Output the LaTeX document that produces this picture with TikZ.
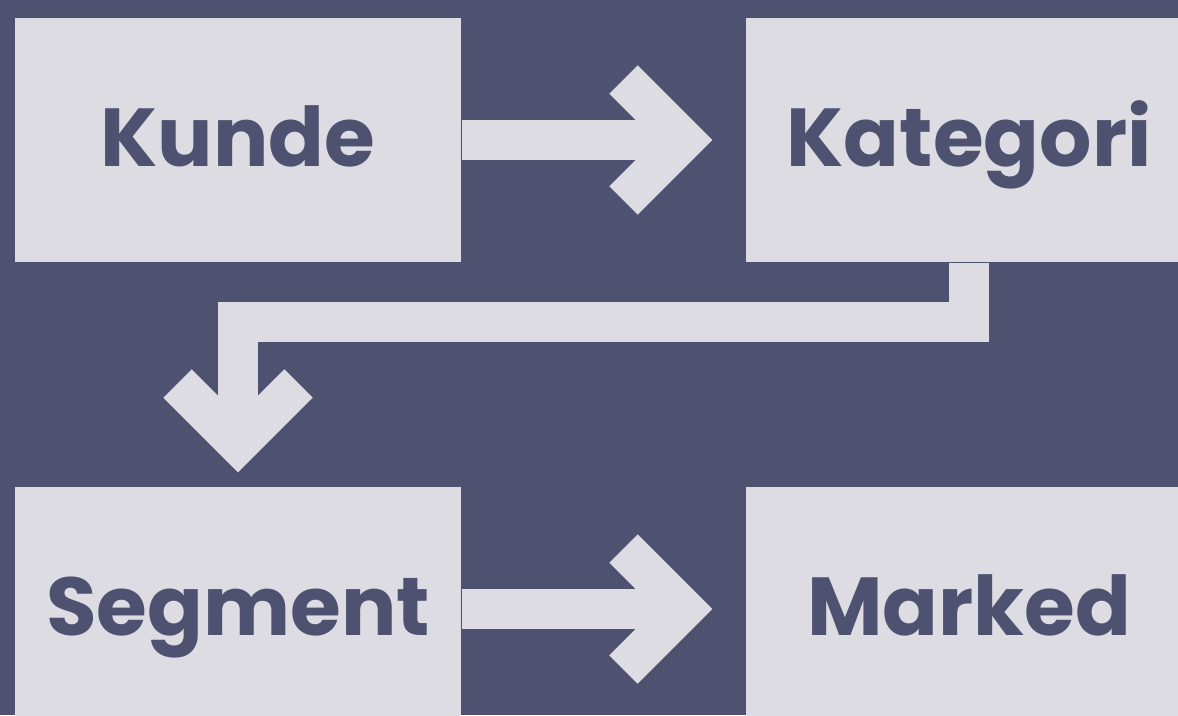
\documentclass[tikz,border=0pt]{standalone}
\usepackage{fontspec}
\setmainfont{Poppins}
\usepackage{tikz}
\usepackage{xcolor}
\definecolor{bgblue}{RGB}{78,82,112}
\definecolor{boxgray}{RGB}{221,220,227}
\tikzset{
    box/.style={fill=boxgray, text=bgblue, minimum width=4.46cm, minimum height=2.44cm,
        inner sep=0pt, text height=15.2pt, text depth=0pt,
        font=\fontsize{23.4}{28}\selectfont\bfseries},
    flow/.style={draw=boxgray, line width=0.4cm, line join=miter},
    chev/.pic={\draw[flow] (-0.605,0.605) -- (0,0) -- (-0.605,-0.605);}
}
\begin{document}
\begin{tikzpicture}
    % Background
    \fill[bgblue] (0,0) rectangle (11.78,7.15);
    \useasboundingbox (0,0) rectangle (11.78,7.15);
    \clip (0,0) rectangle (11.78,7.15);

    % Boxes
    \node[box] (kunde) at (2.38,5.75) {Kunde};
    \node[box] (kategori) at (9.69,5.75) {Kategori};
    \node[box] (segment) at (2.38,1.06) {Segment};
    \node[box] (marked) at (9.69,1.06) {Marked};

    % Kunde to Kategori
    \draw[flow] (kunde.east) -- ([xshift=-0.613cm]kategori.west)
        pic {chev};

    % Kategori to Segment
    \draw[flow] (kategori.south) |- ([yshift=1.64cm]segment.north)
        -- ([yshift=0.423cm]segment.north) pic[rotate=-90] {chev};

    % Segment to Marked
    \draw[flow] (segment.east) -- ([xshift=-0.613cm]marked.west)
        pic {chev};
\end{tikzpicture}
\end{document}
